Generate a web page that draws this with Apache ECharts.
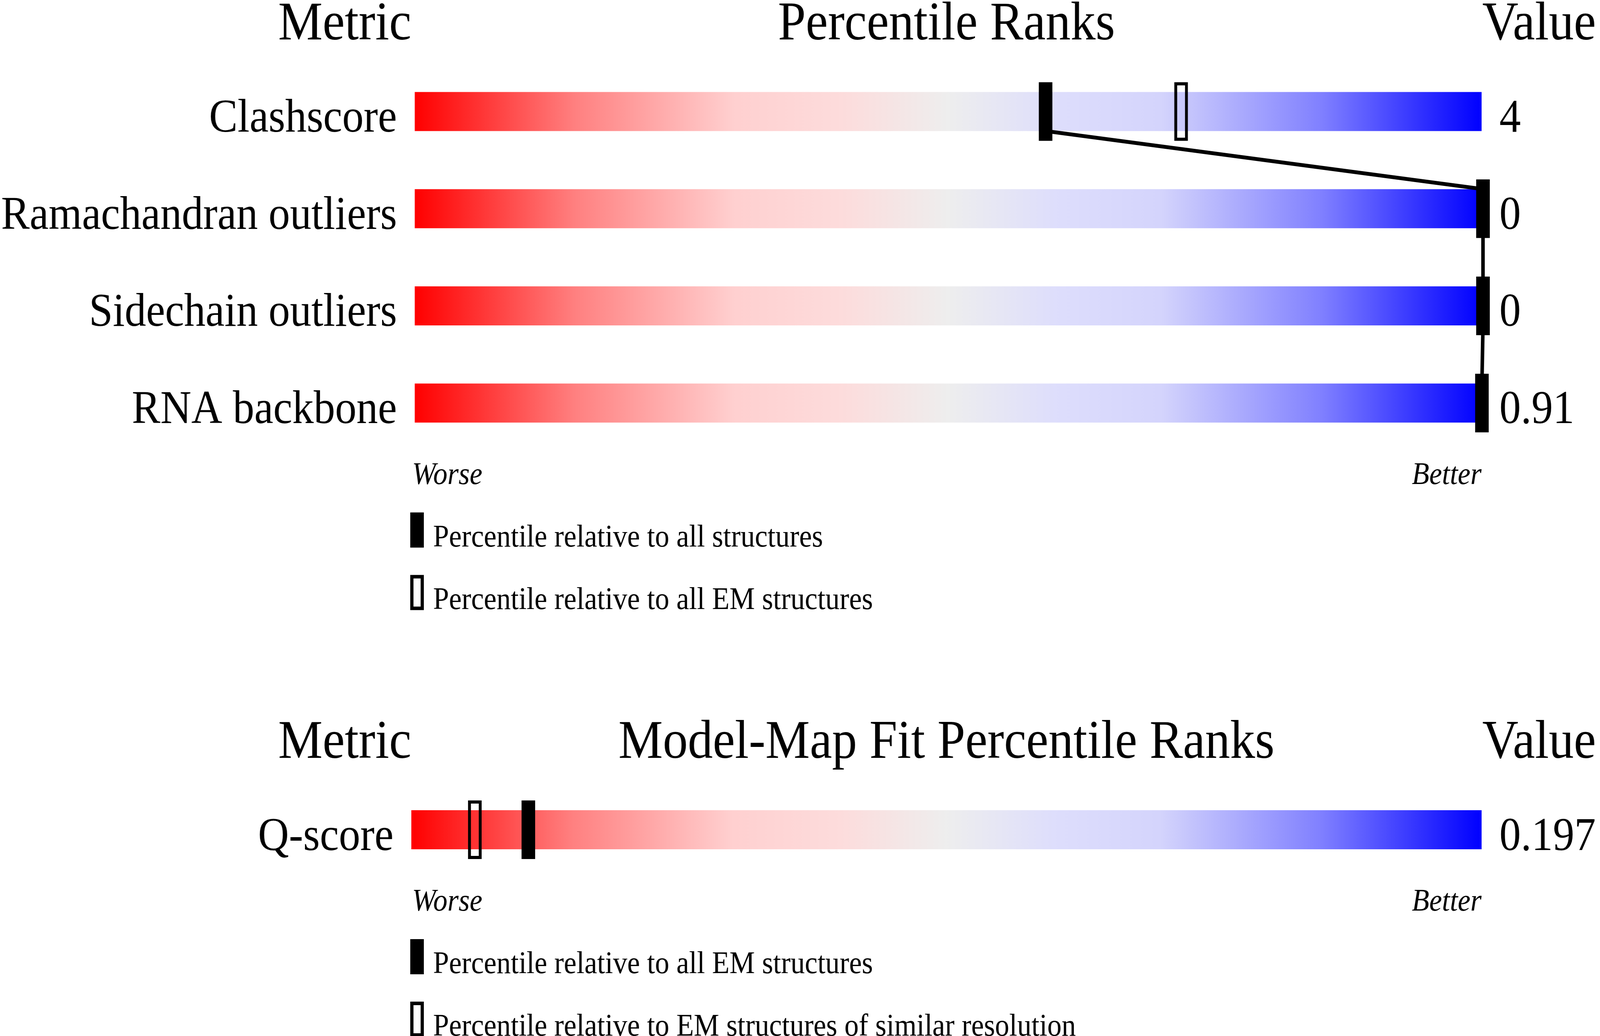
<!DOCTYPE html>
<html>
<head>
<meta charset="utf-8">
<script src="https://cdn.jsdelivr.net/npm/echarts@6/dist/echarts.min.js"></script>
<style>
html,body{margin:0;padding:0;background:#fff;overflow:hidden;}
#chart{width:4485px;height:2652px;transform-origin:0 0;}
</style>
</head>
<body>
<div id="chart"></div>
<script>
// ---- data ----
const metrics = ['Clashscore', 'Ramachandran outliers', 'Sidechain outliers', 'RNA backbone'];
const metricValues = ['4', '0', '0', '0.91'];
const pctAll = [59, 100, 100, 99.9];
const pctEM = [71.7, null, null, null];

const fitMetrics = ['Q-score'];
const fitValues = ['0.197'];
const fitPctAllEM = [10.8];
const fitPctSimilar = [5.8];

const topTitles = ['Metric', 'Percentile Ranks', 'Value'];
const bottomTitles = ['Metric', 'Model-Map Fit Percentile Ranks', 'Value'];
const scaleEnds = ['Worse', 'Better'];
const topLegend = ['Percentile relative to all structures', 'Percentile relative to all EM structures'];
const bottomLegend = ['Percentile relative to all EM structures', 'Percentile relative to EM structures of similar resolution'];

// ---- page fit: the chart is laid out at 4485 x 2652 and fitted to the real viewport ----
const el = document.getElementById('chart');
const VW = window.innerWidth || 4485, VH = window.innerHeight || 2652;
el.style.transform = 'scale(' + (VW / 4485) + ',' + (VH / 2652) + ')';

// ---- layout ----
const FONT = '"Liberation Serif", "Times New Roman", serif';
const L = 1153, R = 4153;
const topGrid = { top: 161, height: 995 };
const botGrid = { top: 2000, height: 248 };
const BAR_H = 100, MARK_W = 38, MARK_H = 150, MARK_DX = 4;
const F_TITLE = 140, F_LABEL = 120, F_SMALL = 80;

const gradient = {
  type: 'linear', x: 0, y: 0, x2: 1, y2: 0,
  colorStops: [
    { offset: 0, color: '#ff0000' },
    { offset: 0.15, color: '#ff8080' },
    { offset: 0.30, color: '#ffd0d0' },
    { offset: 0.40, color: '#fddcdc' },
    { offset: 0.50, color: '#eeeeee' },
    { offset: 0.60, color: '#dedefc' },
    { offset: 0.70, color: '#d4d4fc' },
    { offset: 0.85, color: '#8080ff' },
    { offset: 1, color: '#0000ff' }
  ]
};

function markerSeries(name, gridIdx, pcts, open) {
  const data = [];
  pcts.forEach((v, i) => { if (v !== null && v !== undefined) data.push([v, i]); });
  const sw = 8;
  return {
    name, type: 'custom', xAxisIndex: gridIdx, yAxisIndex: gridIdx * 2, z: 5, silent: true,
    data,
    renderItem(params, api) {
      const c = api.coord([api.value(0), api.value(1)]);
      const cx = c[0] + MARK_DX;
      if (open) {
        return { type: 'rect', shape: { x: cx - (MARK_W - sw) / 2, y: c[1] - (MARK_H - sw) / 2, width: MARK_W - sw, height: MARK_H - sw },
          style: { fill: 'none', stroke: '#000', lineWidth: sw } };
      }
      return { type: 'rect', shape: { x: cx - MARK_W / 2, y: c[1] - MARK_H / 2, width: MARK_W, height: MARK_H },
        style: { fill: '#000' } };
    }
  };
}

function connectorSeries(gridIdx, pcts) {
  const data = [];
  for (let i = 1; i < pcts.length; i++) data.push([pcts[i - 1], i - 1, pcts[i], i]);
  return {
    type: 'custom', xAxisIndex: gridIdx, yAxisIndex: gridIdx * 2, z: 4, silent: true,
    data,
    renderItem(params, api) {
      const a = api.coord([api.value(0), api.value(1)]);
      const b = api.coord([api.value(2), api.value(3)]);
      return { type: 'line', shape: { x1: a[0] + MARK_DX, y1: a[1] + BAR_H / 2, x2: b[0] + MARK_DX, y2: b[1] - BAR_H / 2 },
        style: { stroke: '#000', lineWidth: 10 } };
    }
  };
}

function textEl(text, x, y, size, align, italic) {
  const font = (italic ? 'italic ' : '') + size + 'px ' + FONT;
  return { type: 'text', x, y: y + size * 0.1, silent: true,
    style: { text, font, fill: '#000', align, textAlign: align, verticalAlign: 'middle', textVerticalAlign: 'middle' } };
}

function panelGraphics(titles, titleY, lastCenter, legendTexts) {
  const els = [];
  els.push(textEl(titles[0], L, titleY, F_TITLE, 'right'));
  els.push(textEl(titles[1], (L + R) / 2, titleY, F_TITLE, 'center'));
  els.push(textEl(titles[2], R + 2, titleY, F_TITLE, 'left'));
  els.push(textEl(scaleEnds[0], L + 2, lastCenter + 178, F_SMALL, 'left', true));
  els.push(textEl(scaleEnds[1], R, lastCenter + 178, F_SMALL, 'right', true));
  const r1 = lastCenter + 280;
  els.push({ type: 'rect', silent: true, shape: { x: L - 3, y: r1, width: MARK_W, height: 90 }, style: { fill: '#000' } });
  els.push(textEl(legendTexts[0], L + 61, r1 + 58, F_SMALL, 'left'));
  const r2 = r1 + 160;
  els.push({ type: 'rect', silent: true, shape: { x: L - 3 + 4.5, y: r2 + 4.5, width: MARK_W - 9, height: 81 }, style: { fill: 'none', stroke: '#000', lineWidth: 9 } });
  els.push(textEl(legendTexts[1], L + 61, r2 + 58, F_SMALL, 'left'));
  return els;
}

const topCenterLast = topGrid.top + topGrid.height * 7 / 8;
const botCenterLast = botGrid.top + botGrid.height / 2;

function catAxes(gridIdx, names, vals) {
  const base = { type: 'category', gridIndex: gridIdx, inverse: true,
    axisLine: { show: false }, axisTick: { show: false }, splitLine: { show: false } };
  const lab = { margin: 50, fontSize: F_LABEL, fontFamily: FONT, color: '#000', verticalAlign: 'top', lineHeight: 40 };
  return [
    Object.assign({}, base, { data: names, position: 'left', axisLabel: Object.assign({}, lab) }),
    Object.assign({}, base, { data: vals, position: 'right', axisLabel: Object.assign({}, lab) })
  ];
}

const chart = echarts.init(el, null, { renderer: 'canvas', width: 4485, height: 2652, devicePixelRatio: 1 });
chart.setOption({
  animation: false,
  backgroundColor: '#ffffff',
  grid: [
    { left: L, width: R - L, top: topGrid.top, height: topGrid.height },
    { left: L, width: R - L, top: botGrid.top, height: botGrid.height }
  ],
  xAxis: [
    { type: 'value', gridIndex: 0, min: 0, max: 100, show: false },
    { type: 'value', gridIndex: 1, min: 0, max: 100, show: false }
  ],
  yAxis: [].concat(catAxes(0, metrics, metricValues), catAxes(1, fitMetrics, fitValues)),
  series: [
    { type: 'bar', xAxisIndex: 0, yAxisIndex: 0, barWidth: BAR_H, silent: true,
      data: metrics.map(() => 100), itemStyle: { color: gradient } },
    { type: 'bar', xAxisIndex: 1, yAxisIndex: 2, barWidth: BAR_H, silent: true,
      data: fitMetrics.map(() => 100), itemStyle: { color: gradient } },
    connectorSeries(0, pctAll),
    markerSeries('all', 0, pctAll, false),
    markerSeries('em', 0, pctEM, true),
    markerSeries('allEM', 1, fitPctAllEM, false),
    markerSeries('similar', 1, fitPctSimilar, true)
  ],
  graphic: [].concat(
    panelGraphics(topTitles, 50, topCenterLast, topLegend),
    panelGraphics(bottomTitles, 1889, botCenterLast, bottomLegend)
  )
});
</script>
</body>
</html>
